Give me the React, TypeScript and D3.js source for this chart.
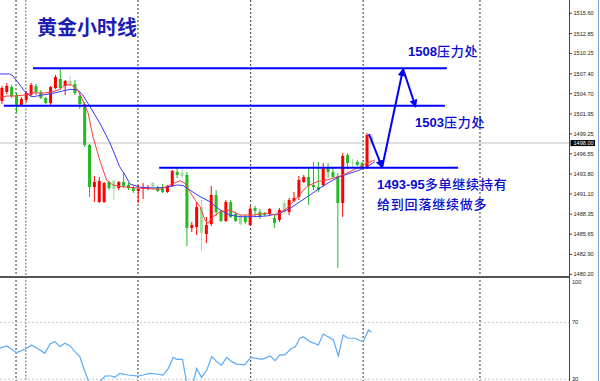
import React from 'react';
import * as d3 from 'd3';

const W = 600;
const H = 381;

// ---- candle data (hourly gold) ----
const opens = [1503.71,1504.93,1505.60,1504.52,1503.16,1503.84,1504.52,1505.74,1504.93,1504.11,1503.43,1505.47,1506.69,1505.74,1506.42,1506.01,1504.38,1503.30,1497.74,1492.04,1490.01,1490.01,1492.72,1492.85,1491.90,1492.72,1492.31,1491.90,1491.50,1491.77,1491.77,1492.58,1492.04,1491.90,1491.36,1492.18,1494.08,1493.94,1493.67,1486.48,1486.62,1489.33,1485.67,1487.02,1490.96,1488.65,1487.43,1490.01,1488.38,1488.11,1487.97,1486.89,1489.19,1488.65,1488.51,1488.38,1487.84,1487.57,1489.87,1488.65,1490.14,1490.69,1492.72,1493.40,1492.31,1492.04,1492.31,1494.62,1494.08,1493.53,1489.87,1496.38,1495.43,1495.43,1495.29,1494.62,1498.82];
const highs = [1505.74,1506.15,1505.88,1504.79,1504.25,1505.06,1506.15,1506.01,1505.20,1504.25,1505.74,1507.23,1508.05,1506.55,1507.10,1506.55,1504.93,1503.57,1497.87,1493.53,1493.40,1492.72,1492.85,1492.99,1492.85,1493.94,1492.58,1492.18,1492.31,1492.58,1492.31,1492.72,1492.18,1492.45,1492.31,1494.35,1494.62,1494.62,1494.08,1487.29,1490.01,1490.28,1487.97,1492.18,1491.63,1488.92,1490.28,1490.28,1488.65,1488.38,1488.24,1489.47,1489.47,1489.06,1488.65,1489.19,1488.38,1489.19,1490.28,1490.55,1491.36,1493.53,1493.67,1494.75,1495.43,1495.43,1495.29,1495.29,1494.75,1493.94,1496.65,1496.65,1495.84,1495.70,1495.43,1499.36,1499.23];
const lows = [1503.30,1504.65,1504.11,1502.08,1503.03,1503.57,1504.38,1504.52,1503.98,1503.30,1503.16,1505.33,1505.20,1504.52,1505.74,1504.52,1502.62,1497.47,1490.68,1490.01,1489.87,1489.87,1491.63,1490.28,1491.63,1491.90,1491.63,1491.23,1489.87,1490.41,1491.63,1491.63,1491.36,1491.23,1491.23,1492.04,1493.26,1493.26,1484.04,1485.94,1485.53,1483.36,1484.45,1486.75,1488.11,1487.29,1487.29,1487.84,1487.29,1486.89,1487.02,1486.75,1487.97,1487.70,1488.11,1488.24,1486.48,1487.29,1488.38,1488.24,1490.01,1490.28,1492.58,1489.60,1491.63,1491.36,1492.04,1493.26,1493.26,1481.05,1487.97,1494.48,1494.75,1494.89,1494.48,1494.48,1497.74];
const closes = [1505.47,1505.74,1504.38,1503.16,1503.98,1504.79,1505.88,1504.93,1504.11,1503.43,1505.60,1506.96,1505.47,1506.42,1505.88,1504.79,1503.30,1497.74,1492.04,1492.72,1492.85,1492.58,1491.90,1491.77,1492.72,1492.18,1491.90,1491.50,1491.77,1492.04,1492.04,1491.77,1491.50,1491.36,1492.18,1494.21,1493.67,1493.53,1486.48,1486.89,1489.33,1485.80,1486.89,1490.96,1488.65,1487.43,1490.01,1487.97,1487.43,1487.02,1487.29,1489.06,1488.79,1487.97,1488.24,1489.06,1487.16,1488.92,1488.65,1490.28,1490.55,1492.99,1493.40,1492.18,1492.04,1491.63,1494.62,1494.08,1493.40,1489.87,1496.25,1495.29,1495.29,1495.03,1494.62,1499.09,1498.00];
const fadedBars = [14, 23, 31, 37, 41, 49, 58, 72, 76];

// ---- moving averages (bar position / price) ----
const maBlueIdx = [-0.4,1.6,2.3,3.7,4.7,5.8,6.4,8.4,10.5,12.5,14.0,15.6,16.6,18.1,20.1,22.2,24.2,25.3,26.3,28.4,31.0,33.8,35.9,37.2,38.6,40.7,42.7,44.8,46.8,48.9,51.6,54.4,57.1,59.2,61.2,63.3,65.3,67.4,69.4,71.5,73.5,75.6,76.6];
const maBlueVal = [1507.37,1507.37,1507.10,1505.88,1504.97,1504.38,1504.29,1504.52,1504.75,1505.06,1505.29,1505.20,1504.52,1502.93,1500.72,1498.01,1494.79,1493.67,1492.45,1492.00,1491.90,1492.00,1492.31,1492.24,1491.63,1490.73,1490.05,1488.92,1488.24,1488.01,1488.01,1488.11,1488.47,1489.15,1490.05,1490.96,1491.87,1492.76,1493.44,1493.90,1494.35,1495.03,1495.47];
const maRedIdx = [-0.4,1.0,2.7,4.7,6.4,8.4,10.5,11.9,12.9,14.3,15.6,16.6,17.7,18.7,20.1,21.5,22.8,24.9,28.4,32.5,34.5,36.6,37.6,38.6,39.7,40.7,41.7,42.3,43.4,44.8,46.8,48.9,51.6,54.4,56.4,58.5,60.5,62.6,64.7,66.7,68.8,70.8,72.9,74.9,76.6];
const maRedVal = [1504.20,1504.38,1504.38,1504.52,1504.83,1504.75,1504.97,1505.29,1505.88,1505.88,1505.20,1503.84,1502.08,1498.86,1495.70,1492.99,1492.31,1492.08,1491.87,1491.73,1492.31,1492.89,1492.54,1491.40,1490.28,1489.37,1487.57,1487.12,1488.01,1488.69,1488.92,1488.24,1488.24,1488.47,1488.24,1489.15,1490.51,1492.08,1492.76,1492.99,1493.36,1493.90,1494.58,1495.26,1495.70];

// ---- RSI ----
const rsiIdx = [-0.4,1.0,3.0,4.7,6.1,7.8,8.8,9.9,10.9,11.9,12.9,14.0,15.0,16.0,16.7,17.7,18.6,19.4,20.1,21.2,22.5,23.2,24.2,25.9,28.0,29.0,30.4,31.8,33.1,34.2,35.2,35.9,37.1,37.9,38.7,39.4,40.0,41.0,42.1,43.1,44.1,45.1,46.2,47.2,48.2,49.9,51.1,53.4,55.1,56.1,57.1,58.1,59.5,60.2,61.2,61.9,63.3,65.0,66.0,68.1,69.1,70.1,71.1,72.5,74.2,75.3,75.9];
const rsiVal = [51.8,53.4,48.7,51.1,54.1,50.6,48.2,54.8,56.4,52.9,55.3,53.4,49.4,45.9,38.8,29.5,22.0,23.5,28.3,32.3,32.3,31.4,34.2,33.0,32.3,33.0,34.2,33.7,33.0,37.7,45.4,44.0,44.0,28.5,24.0,29.0,37.7,31.4,36.5,45.9,42.4,40.0,45.4,42.4,40.7,40.2,45.4,44.0,46.4,43.1,47.1,47.1,51.8,52.5,58.8,59.9,56.4,54.1,61.8,57.6,46.4,61.1,58.8,58.8,56.4,64.6,63.0];

// ---- axes ----
const priceTicks = ["1515.60","1512.85","1510.15","1507.40","1504.70","1501.95","1499.25","1496.55","1493.80","1491.10","1488.35","1485.65","1482.90","1480.20"];
const rsiTicks = [100, 70, 30];
const rsiLevels = [70, 30];
const lastPrice = 1498.0;
const separatorBars = [2.9, 27.95, 51.1, 74.2, 98.2];
const markerBar = 4.9;

// ---- annotations ----
const levelPrices = [1508.14, 1503.07, 1494.66];
const levelFrom = [6.4, 0.4, 32.3];
const levelTo = [91.4, 91.0, 93.7];
const pathIdx = [75.4, 78.1, 82.4, 85.0];
const pathVal = [1499.23, 1494.69, 1508.05, 1502.89];
const title = "黄金小时线";
const noteNums = ["1508", "1503", "1493-95", ""];
const noteWords = ["压力处", "压力处", "多单继续持有", "给到回落继续做多"];

export default function App() {
  const x = d3.scaleLinear().domain([0, 76]).range([1.9, 371.9]);
  const y = d3.scaleLinear().domain([1480.2, 1515.6]).range([274.3, 13.3]);
  const r = d3.scaleLinear().domain([30, 70]).range([379.3, 322.3]);
  const axisX = 569.5;
  const sepY = 277;

  const blue = d3.line<number>().x((_, i) => x(maBlueIdx[i])).y((v) => y(v))(maBlueVal) || '';
  const red = d3.line<number>().x((_, i) => x(maRedIdx[i])).y((v) => y(v))(maRedVal) || '';
  const rsi = d3.line<number>().x((_, i) => x(rsiIdx[i])).y((v) => r(v))(rsiVal) || '';

  const bw = 3;
  const green = '#22bb22';
  const redC = '#ff0000';
  const greenL = '#9ddd9d';
  const redL = '#ff9a9a';
  const blueA = '#0000ff';
  const textBlue = '#0a0ad0';
  const numFont = 'Liberation Sans, Arial, sans-serif';
  const cjkFont = 'Noto Sans CJK SC, sans-serif';

  const notePos = [
    { x: 408, y: 56 },
    { x: 415, y: 126.5 },
    { x: 377, y: 189 },
    { x: 377, y: 208.5 },
  ];

  return (
    <div style={{ position: 'absolute', left: 0, top: 0 }}>
      <svg width={W} height={H} style={{ display: 'block', background: '#fff' }}>
        <defs>
          <clipPath id="mainClip"><rect x={0} y={0} width={axisX} height={sepY} /></clipPath>
          <clipPath id="rsiClip"><rect x={0} y={sepY + 1} width={axisX} height={H - sepY} /></clipPath>
          <marker id="ah" viewBox="0 0 10 10" refX="9" refY="5" markerWidth="4" markerHeight="4" orient="auto">
            <path d="M0,0 L10,5 L0,10 z" fill={blueA} />
          </marker>
        </defs>

        {/* current price line */}
        <line x1={0} x2={axisX} y1={y(lastPrice)} y2={y(lastPrice)} stroke="#d6d6d6" strokeWidth={1.5} />

        {/* vertical separators */}
        {separatorBars.map((b, i) => (
          <line key={'s' + i} x1={x(b)} x2={x(b)} y1={0} y2={H} stroke="#333" strokeWidth={1} strokeDasharray="2,2" />
        ))}
        <line x1={x(markerBar)} x2={x(markerBar)} y1={0} y2={H} stroke="#999" strokeWidth={1.5} strokeDasharray="2,1.5" />

        {/* RSI levels */}
        {rsiLevels.map((l, i) => (
          <line key={'rl' + i} x1={0} x2={axisX} y1={r(l)} y2={r(l)} stroke="#c8c8c8" strokeWidth={1} strokeDasharray="2,2" />
        ))}

        {/* candles */}
        <g clipPath="url(#mainClip)">
          {opens.map((o, i) => {
            const c = closes[i];
            const up = c >= o;
            const faded = fadedBars.includes(i);
            const col = up ? (faded ? redL : redC) : (faded ? greenL : green);
            const cx = x(i);
            const top = y(Math.max(o, c));
            const bot = y(Math.min(o, c));
            return (
              <g key={'c' + i}>
                <line x1={cx} x2={cx} y1={y(highs[i])} y2={y(lows[i])} stroke={col} strokeWidth={1} />
                <rect x={cx - bw / 2} y={top} width={bw} height={Math.max(1, bot - top)} fill={col} />
              </g>
            );
          })}
          <path d={blue} fill="none" stroke="#3a3aff" strokeWidth={1} />
          <path d={red} fill="none" stroke="#ff3b3b" strokeWidth={1} />
        </g>

        {/* RSI line */}
        <g clipPath="url(#rsiClip)">
          <path d={rsi} fill="none" stroke="#5aaaf5" strokeWidth={1.2} />
        </g>

        {/* panel separator & axis */}
        <line x1={0} x2={axisX} y1={sepY} y2={sepY} stroke="#555" strokeWidth={2} />
        <line x1={axisX} x2={axisX} y1={0} y2={H} stroke="#444" strokeWidth={1} />
        <line x1={598.5} x2={598.5} y1={0} y2={H} stroke="#7aa8dc" strokeWidth={1} />

        {/* price ticks */}
        {priceTicks.map((t, i) => (
          <g key={'pt' + i}>
            <line x1={axisX} x2={axisX + 2.5} y1={y(+t)} y2={y(+t)} stroke="#444" strokeWidth={1} />
            <text x={573.5} y={y(+t) + 2} fontSize={5.6} fontFamily={numFont} fill="#222">{t}</text>
          </g>
        ))}
        <rect x={570.5} y={y(lastPrice) - 3} width={24.5} height={6} fill="#000" />
        <text x={573.5} y={y(lastPrice) + 2} fontSize={5.6} fontFamily={numFont} fill="#fff">{lastPrice.toFixed(2)}</text>

        {/* RSI ticks */}
        {rsiTicks.map((t, i) => (
          <text key={'rt' + i} x={572} y={(t === 100 ? r(t) + 4.5 : r(t) + 2)} fontSize={5.6} fontFamily={numFont} fill="#222">{t}</text>
        ))}

        {/* annotation levels */}
        {levelPrices.map((p, i) => (
          <line key={'lv' + i} x1={x(levelFrom[i])} x2={x(levelTo[i])} y1={y(p)} y2={y(p)} stroke={blueA} strokeWidth={2} />
        ))}
        {pathIdx.slice(1).map((b, i) => (
          <line key={'ar' + i} x1={x(pathIdx[i])} y1={y(pathVal[i])} x2={x(b)} y2={y(pathVal[i + 1])} stroke={blueA} strokeWidth={2} markerEnd="url(#ah)" />
        ))}

        {/* title */}
        <text x={37} y={34.5} fontSize={20} fontWeight={700} fontFamily={cjkFont} fill="#1d1db5">{title}</text>

        {/* notes */}
        {noteWords.map((w, i) => (
          <text key={'n' + i} x={notePos[i].x} y={notePos[i].y} fill={textBlue}>
            {noteNums[i] ? (
              <tspan fontSize={13} fontWeight={700} fontFamily={numFont}>{noteNums[i]}</tspan>
            ) : null}
            <tspan fontSize={13} fontWeight={500} letterSpacing={0.8} fontFamily={cjkFont}>{w}</tspan>
          </text>
        ))}
      </svg>
    </div>
  );
}
